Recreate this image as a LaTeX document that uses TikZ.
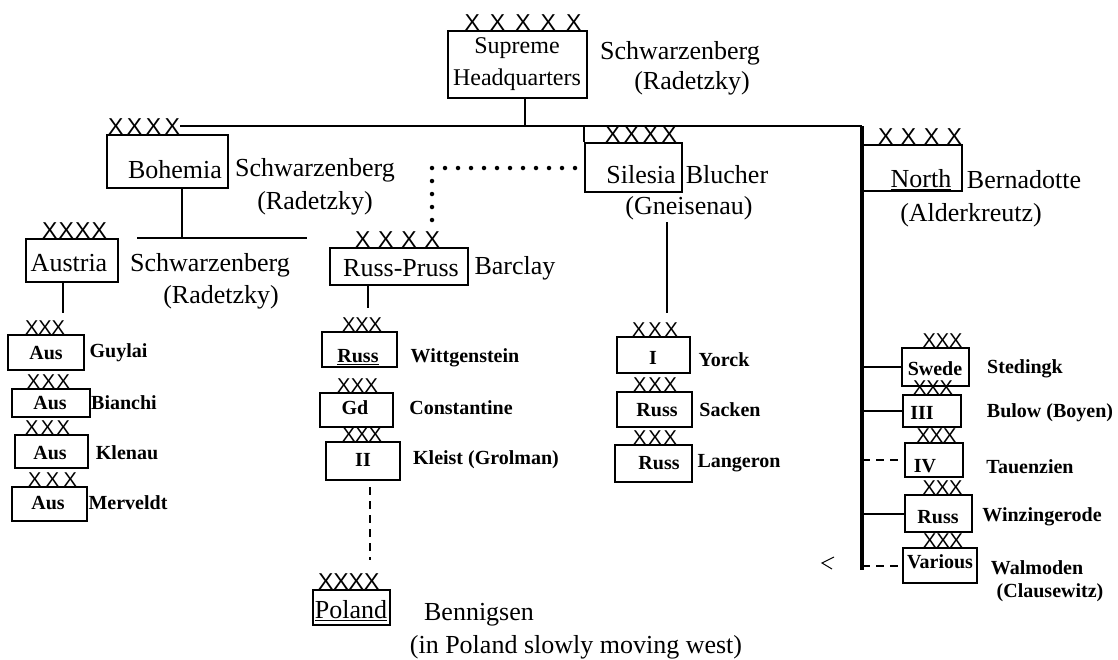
\documentclass[tikz,border=0pt]{standalone}
\usepackage{fontspec}
\setmainfont{Liberation Serif}
\setsansfont{Liberation Sans}
\newcommand\xthree[1]{\makebox[#1][s]{X\hfil X\hfil X}}
\newcommand\xfour[1]{\makebox[#1][s]{X\hfil X\hfil X\hfil X}}
\newcommand\xfive[1]{\makebox[#1][s]{X\hfil X\hfil X\hfil X\hfil X}}
\begin{document}
\begin{tikzpicture}[x=1pt,y=-1pt,
  box/.style={draw, line width=2pt, inner sep=0pt, rectangle},
  big/.style={font=\fontsize{26}{30}\selectfont, inner sep=0pt},
  hqf/.style={font=\fontsize{24}{32}\selectfont, inner sep=0pt, align=center},
  sml/.style={font=\fontsize{20}{24}\selectfont\bfseries, inner sep=0pt},
  xs/.style={font=\sffamily\fontsize{20}{20}\selectfont, inner sep=0pt, anchor=south},
  xl/.style={font=\sffamily\fontsize{23}{23}\selectfont, inner sep=0pt, anchor=south},
  conn/.style={line width=2pt},
  dline/.style={line width=2pt, dash pattern=on 8pt off 6pt},
  dots/.style={line width=4.5pt, line cap=round, dash pattern=on 0pt off 13pt}
]
\useasboundingbox (0,0) rectangle (1118,659);

% Supreme Headquarters
\node[box, minimum width=139pt, minimum height=67pt] (hq) at (517.5,64.5) {};
\node[hqf] (hqT) at (517,64) {Supreme\\Headquarters};
\node[xl] (hqX) at (523,31) {\xfive{117pt}};
\node[big] (hqL1) at (680,53) {Schwarzenberg};
\node[big] (hqL2) at (692,83) {(Radetzky)};

% bus
\coordinate (busL) at (180,126);
\coordinate (busR) at (862,126);
\coordinate (hqJ) at (525,126);
\draw[conn] (busL) -- (busR);
\draw[conn] (hqJ |- hq.south) -- (hqJ);

% Bohemia
\node[box, minimum width=121pt, minimum height=53pt] (boh) at (167.5,161.5) {};
\node[big] (bohT) at (175,170) {Bohemia};
\node[xl] (bohX) at (144,135) {\xfour{72pt}};
\node[big] (bohL1) at (315,170) {Schwarzenberg};
\node[big] (bohL2) at (315,203) {(Radetzky)};
\coordinate (bohJ) at (182,238);
\coordinate (bl1) at (137,238);
\coordinate (bl2) at (307,238);
\draw[conn] (bohJ |- boh.south) -- (bohJ);
\draw[conn] (bl1) -- (bl2);

% Austria
\node[box, minimum width=92pt, minimum height=43pt] (aus) at (72,260.5) {};
\node[big] (ausT) at (69,263) {Austria};
\node[xl] (ausX) at (74.5,239) {\xfour{65pt}};
\node[big] (ausL1) at (210,265) {Schwarzenberg};
\node[big] (ausL2) at (221,297) {(Radetzky)};
\coordinate (ausE) at (63,313);
\draw[conn] (ausE |- aus.south) -- (ausE);

% Austrian corps
\node[box, minimum width=76pt, minimum height=35pt] (a1) at (46,352.5) {};
\node[sml] (a1T) at (46,353) {Aus};
\node[xs] (a1X) at (43.5,335) {\xthree{37pt}};
\node[sml] (a1L) at (118.5,353) {Guylai};

\node[box, minimum width=78pt, minimum height=28pt] (a2) at (51,403) {};
\node[sml] (a2T) at (50,403) {Aus};
\node[xs] (a2X) at (48.5,389) {\xthree{43pt}};
\node[sml] (a2L) at (124,403) {Bianchi};

\node[box, minimum width=73pt, minimum height=33pt] (a3) at (51.5,451.5) {};
\node[sml] (a3T) at (50,453) {Aus};
\node[xs] (a3X) at (47.5,435) {\xthree{45pt}};
\node[sml] (a3L) at (127,453) {Klenau};

\node[box, minimum width=75pt, minimum height=34pt] (a4) at (49.5,504) {};
\node[sml] (a4T) at (48,503) {Aus};
\node[xs] (a4X) at (52.5,487) {\xthree{49pt}};
\node[sml] (a4L) at (128,503) {Merveldt};

% Russ-Pruss
\node[box, minimum width=138pt, minimum height=37pt] (rp) at (399,266.5) {};
\node[big] (rpT) at (401,268) {Russ-Pruss};
\node[xl] (rpX) at (397.5,248) {\xfour{85pt}};
\node[big] (rpL) at (515,268) {Barclay};
\coordinate (rpE) at (368,308);
\draw[conn] (rpE |- rp.south) -- (rpE);

\node[box, minimum width=75pt, minimum height=35pt] (r1) at (359.5,349.5) {};
\node[sml] (r1T) at (358,357) {\underline{Russ}};
\node[xs] (r1X) at (362,332) {\xthree{40pt}};
\node[sml] (r1L) at (465,358) {Wittgenstein};

\node[box, minimum width=73pt, minimum height=34pt] (r2) at (356.5,410) {};
\node[sml] (r2T) at (355,408) {Gd};
\node[xs] (r2X) at (357.5,393) {\xthree{41pt}};
\node[sml] (r2L) at (461,408) {Constantine};

\node[box, minimum width=74pt, minimum height=38pt] (r3) at (363,461) {};
\node[sml] (r3T) at (363,460) {II};
\node[xs] (r3X) at (362,442) {\xthree{40pt}};
\node[sml] (r3L) at (486,460) {Kleist (Grolman)};

\coordinate (iiA) at (370,487);
\coordinate (iiE) at (370,560);
\draw[dline] (iiA) -- (iiE);

\node[box, minimum width=77pt, minimum height=35pt] (pol) at (351.5,607.5) {};
\node[big] (polT) at (351,611) {\underline{Poland}};
\node[xl] (polX) at (348,590) {\xfour{60pt}};
\node[big] (polL1) at (479,615) {Bennigsen};
\node[big] (polL2) at (576,647) {(in Poland slowly moving west)};

% Silesia
\node[box, minimum width=97pt, minimum height=49pt] (sil) at (633.5,167.5) {};
\node[big] (silT) at (641,175) {Silesia};
\node[xl] (silX) at (641,143) {\xfour{72pt}};
\node[big] (silL1) at (727,175) {Blucher};
\node[big] (silL2) at (689,208) {(Gneisenau)};
\draw[conn] (sil.north west) -- (sil.north west |- busR);
\coordinate (silA) at (667,222);
\coordinate (silE) at (667,313);
\draw[conn] (silA) -- (silE);

% dotted link Silesia - Russ-Pruss
\coordinate (dA) at (575,168);
\coordinate (dB) at (432,168);
\coordinate (dC) at (432,226);
\draw[dots] (dA) -- (dB) -- (dC);

\node[box, minimum width=73pt, minimum height=36pt] (s1) at (653.5,355) {};
\node[sml] (s1T) at (653,358) {I};
\node[xs] (s1X) at (655,337) {\xthree{46pt}};
\node[sml] (s1L) at (724,360) {Yorck};

\node[box, minimum width=75pt, minimum height=35pt] (s2) at (654.5,409.5) {};
\node[sml] (s2T) at (657,410) {Russ};
\node[xs] (s2X) at (655,392) {\xthree{44pt}};
\node[sml] (s2L) at (730,410) {Sacken};

\node[box, minimum width=77pt, minimum height=37pt] (s3) at (653.5,463.5) {};
\node[sml] (s3T) at (659,463) {Russ};
\node[xs] (s3X) at (655,445) {\xthree{44pt}};
\node[sml] (s3L) at (739,463) {Langeron};

% North
\coordinate (nbot) at (862,570);
\draw[line width=3.5pt] (busR) -- (nbot);
\node[box, minimum width=100pt, minimum height=46pt] (nor) at (912,168) {};
\node[big] (norT) at (921,180) {\underline{North}};
\node[xl] (norX) at (920,145) {\xfour{84pt}};
\node[big] (norL1) at (1024,180) {Bernadotte};
\node[big] (norL2) at (971,215) {(Alderkreutz)};

\node[box, minimum width=67pt, minimum height=38pt] (n1) at (935.5,367) {};
\node[sml] (n1T) at (935,369) {Swede};
\node[xs] (n1X) at (941,348) {\xthree{37pt}};
\node[sml] (n1L) at (1025,369) {Stedingk};
\draw[conn] (n1.west -| busR) -- (n1.west);

\node[box, minimum width=58pt, minimum height=32pt] (n2) at (932,411) {};
\node[sml] (n2T) at (922,413) {III};
\node[xs] (n2X) at (930,395) {\xthree{34pt}};
\node[sml] (n2L) at (1050,413) {Bulow (Boyen)};
\draw[conn] (n2.west -| busR) -- (n2.west);

\node[box, minimum width=58pt, minimum height=34pt] (n3) at (934,460) {};
\node[sml] (n3T) at (925,466) {IV};
\node[xs] (n3X) at (933,443) {\xthree{33pt}};
\node[sml] (n3L) at (1030,467) {Tauenzien};
\draw[dline] (n3.west -| busR) -- (n3.west);

\node[box, minimum width=67pt, minimum height=37pt] (n4) at (938.5,513.5) {};
\node[sml] (n4T) at (938,517) {Russ};
\node[xs] (n4X) at (940,495) {\xthree{35pt}};
\node[sml] (n4L) at (1042,517) {Winzingerode};
\draw[conn] (n4.west -| busR) -- (n4.west);

\node[box, minimum width=74pt, minimum height=35pt] (n5) at (940,565.5) {};
\node[sml] (n5T) at (940,562) {Various};
\node[xs] (n5X) at (943,548) {\xthree{40pt}};
\node[sml] (n5L1) at (1037,568) {Walmoden};
\node[sml] (n5L2) at (1050,593) {(Clausewitz)};
\draw[dline] (n5.west -| busR) -- (n5.west);

\coordinate (m1) at (834,557);
\coordinate (m2) at (822,563);
\coordinate (m3) at (832,569);
\draw[line width=1pt] (m1) -- (m2) -- (m3);
\end{tikzpicture}
\end{document}
